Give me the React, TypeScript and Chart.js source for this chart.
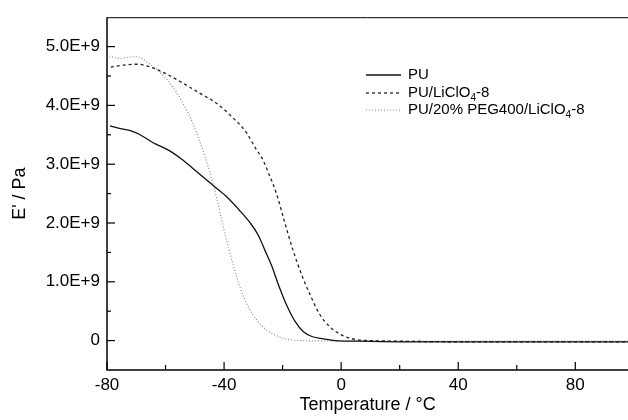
import React, { useEffect, useRef } from 'react';
import { Chart, registerables } from 'chart.js';
Chart.register(...registerables);

// Temperatures (°C) and storage modulus E' (×1E+9 Pa)
const puT = [-79, -75, -71.3, -69, -64.4, -58.7, -54.1, -49.5, -43.8, -39.2, -35, -31.2, -28.4, -26, -23.8, -21.5, -18.6, -15.8, -12.9, -10, -6, -2, 5, 20, 40, 60, 80, 98];
const puE = [3.65, 3.6, 3.56, 3.51, 3.37, 3.23, 3.07, 2.88, 2.64, 2.45, 2.23, 2.01, 1.8, 1.53, 1.28, 0.96, 0.6, 0.33, 0.15, 0.07, 0.03, 0.0, -0.01, -0.02, -0.02, -0.02, -0.02, -0.02];

const liT = [-78.7, -73.6, -69.6, -65.6, -59.9, -54.1, -48.4, -42.7, -37, -32.4, -29, -27.2, -24.4, -22.1, -19.8, -16.4, -13.5, -10.6, -7.5, -4, 0.8, 5.4, 10, 20, 40, 60, 80, 98];
const liE = [4.65, 4.69, 4.7, 4.66, 4.54, 4.38, 4.21, 4.04, 3.79, 3.54, 3.25, 3.12, 2.8, 2.5, 2.1, 1.53, 1.12, 0.78, 0.46, 0.24, 0.08, 0.015, 0, -0.01, -0.02, -0.02, -0.02, -0.02];

const pegT = [-79.3, -75.9, -70.2, -68.5, -65.6, -61.6, -57.6, -54.1, -50.7, -48.4, -46.5, -44.4, -42.5, -40.5, -38.5, -36.5, -34.5, -32, -29, -26, -22, -18, -14, -5, 20, 40, 60, 80, 98];
const pegE = [4.84, 4.8, 4.83, 4.81, 4.71, 4.55, 4.32, 4.04, 3.7, 3.4, 3.13, 2.78, 2.42, 1.98, 1.58, 1.22, 0.9, 0.6, 0.36, 0.2, 0.08, 0.02, 0.0, -0.005, -0.01, -0.01, -0.01, -0.01, -0.01];

const xTicks = [-80, -40, 0, 40, 80];
const yTicks = [0, 1, 2, 3, 4, 5];
const seriesNames = [
  ['PU', '', ''],
  ['PU/LiClO', '4', '-8'],
  ['PU/20% PEG400/LiClO', '4', '-8'],
];

const FONT = "'Liberation Sans', Arial, Helvetica, sans-serif";

const toPts = (t: number[], e: number[]) => t.map((v, i) => ({ x: v, y: e[i] * 1e9 }));

const styles = [
  { color: '#111', width: 1.3, dash: [] as number[] },
  { color: '#222', width: 1.3, dash: [3, 3] },
  { color: '#8a8a8a', width: 1.2, dash: [1, 2] },
];

const framePlugin = {
  id: 'frame',
  afterDraw(chart: any) {
    const { ctx, chartArea: a, scales } = chart;
    const x = scales.x, y = scales.y;
    ctx.save();
    ctx.strokeStyle = '#000';
    ctx.setLineDash([]);
    ctx.lineWidth = 1.5;
    ctx.beginPath();
    ctx.moveTo(a.left, a.top);
    ctx.lineTo(a.left, a.bottom);
    ctx.lineTo(a.right, a.bottom);
    ctx.stroke();
    ctx.lineWidth = 1;
    ctx.beginPath();
    ctx.moveTo(a.left, a.top + 0.5);
    ctx.lineTo(a.right, a.top + 0.5);
    ctx.stroke();
    ctx.lineWidth = 1.2;
    const vals = yTicks.map((v) => v * 1e9);
    vals.forEach((v) => {
      const p = y.getPixelForValue(v);
      ctx.beginPath(); ctx.moveTo(a.left, p); ctx.lineTo(a.left + 8, p); ctx.stroke();
      const m = y.getPixelForValue(v + 0.5e9);
      if (m > a.top) { ctx.beginPath(); ctx.moveTo(a.left, m); ctx.lineTo(a.left + 4, m); ctx.stroke(); }
    });
    xTicks.forEach((v) => {
      const p = x.getPixelForValue(v);
      ctx.beginPath(); ctx.moveTo(p, a.bottom); ctx.lineTo(p, a.bottom - 8); ctx.stroke();
      const m = x.getPixelForValue(v + 20);
      if (m < a.right) { ctx.beginPath(); ctx.moveTo(m, a.bottom); ctx.lineTo(m, a.bottom - 5); ctx.stroke(); }
    });
    // legend
    const lx0 = 366, lx1 = 401, tx = 408;
    const rows = [75, 93, 110];
    rows.forEach((ry, i) => {
      const s = styles[i];
      ctx.strokeStyle = s.color;
      ctx.lineWidth = s.width;
      ctx.setLineDash(s.dash);
      ctx.beginPath(); ctx.moveTo(lx0, ry); ctx.lineTo(lx1, ry); ctx.stroke();
      ctx.setLineDash([]);
      ctx.fillStyle = '#000';
      ctx.textBaseline = 'middle';
      ctx.textAlign = 'left';
      const [a1, sub, a2] = seriesNames[i];
      ctx.font = `15px ${FONT}`;
      let cx = tx;
      ctx.fillText(a1, cx, ry);
      cx += ctx.measureText(a1).width;
      if (sub) {
        ctx.font = `10px ${FONT}`;
        ctx.fillText(sub, cx, ry + 5);
        cx += ctx.measureText(sub).width;
        ctx.font = `15px ${FONT}`;
        ctx.fillText(a2, cx, ry);
      }
    });
    ctx.restore();
  },
};

export default function App() {
  const ref = useRef<HTMLCanvasElement>(null);
  useEffect(() => {
    const chart = new Chart(ref.current!, {
      type: 'line',
      data: {
        datasets: [
          { label: 'PU', data: toPts(puT, puE) },
          { label: 'PU/LiClO4-8', data: toPts(liT, liE) },
          { label: 'PU/20% PEG400/LiClO4-8', data: toPts(pegT, pegE) },
        ].map((d, i) => ({
          ...d,
          borderColor: styles[i].color,
          borderWidth: styles[i].width,
          borderDash: styles[i].dash,
          pointRadius: 0,
          fill: false,
          cubicInterpolationMode: 'monotone' as const,
        })),
      },
      options: {
        animation: false,
        responsive: false,
        maintainAspectRatio: false,
        layout: { padding: { top: 14, left: 0, right: 0, bottom: 0 } },
        plugins: { legend: { display: false }, tooltip: { enabled: false } },
        scales: {
          x: {
            type: 'linear',
            min: -80,
            max: 98,
            grid: { display: false, drawTicks: false },
            border: { display: false },
            afterBuildTicks: (s: any) => { s.ticks = xTicks.map((v) => ({ value: v })); },
            afterFit: (s: any) => { s.height = 50; },
            ticks: { color: '#000', font: { family: FONT, size: 17 }, padding: 5, maxRotation: 0, callback: (v: any) => String(v) },
            title: { display: true, text: 'Temperature / °C', color: '#000', font: { family: FONT, size: 18 }, padding: { top: 0, bottom: 4 } },
          },
          y: {
            type: 'linear',
            min: -0.5e9,
            max: 5.5e9,
            grid: { display: false, drawTicks: false },
            border: { display: false },
            afterBuildTicks: (s: any) => { s.ticks = yTicks.map((v) => ({ value: v * 1e9 })); },
            afterFit: (s: any) => { s.width = 107; },
            ticks: {
              color: '#000',
              font: { family: FONT, size: 17 },
              padding: 7,
              callback: (v: any) => (v === 0 ? '0' : (v / 1e9).toFixed(1) + 'E+9'),
            },
            title: { display: true, text: "E' / Pa", color: '#000', font: { family: FONT, size: 18 }, padding: { top: 9, bottom: 0 } },
          },
        },
      },
      plugins: [framePlugin],
    });
    return () => chart.destroy();
  }, []);
  return (
    <div style={{ position: 'fixed', left: 0, top: 0, width: 628, height: 420, background: '#fff' }}>
      <canvas ref={ref} width={628} height={420} style={{ width: 628, height: 420 }} />
    </div>
  );
}
